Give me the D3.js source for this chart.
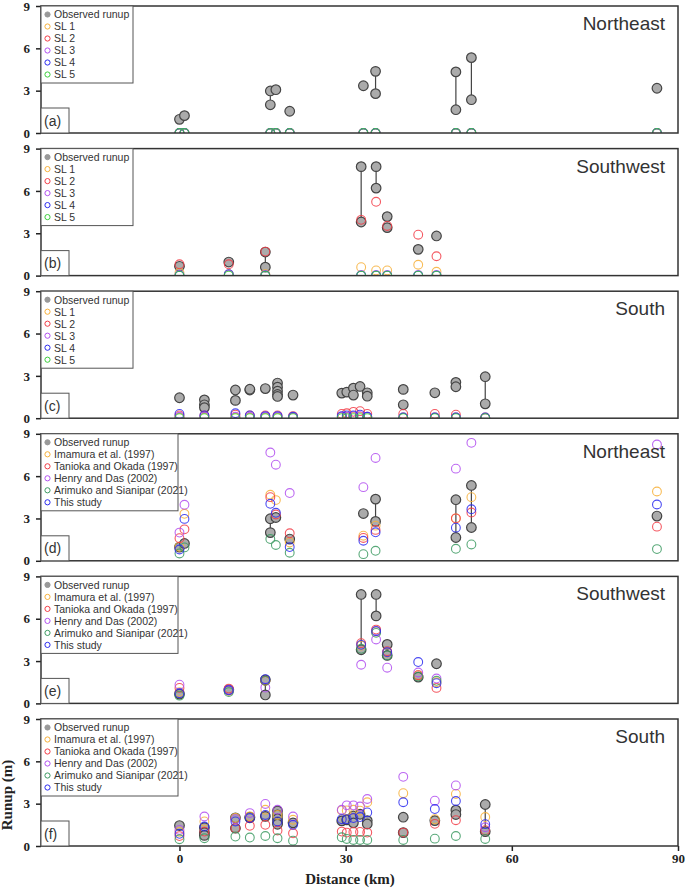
<!DOCTYPE html>
<html>
<head>
<meta charset="utf-8">
<script src="https://cdn.jsdelivr.net/npm/d3@7"></script>
<style>
  body { margin: 0; background: #fff; }
  .tick text { font-family: "Liberation Serif", serif; font-weight: bold; font-size: 13px; fill: #222; }
  .leg { font-family: "Liberation Sans", Arial, sans-serif; font-size: 10.5px; fill: #333; }
  .title { font-family: "Liberation Sans", Arial, sans-serif; font-size: 19px; fill: #333; }
  .plab { font-family: "Liberation Sans", Arial, sans-serif; font-size: 14px; fill: #333; }
  .axlab { font-family: "Liberation Serif", serif; font-weight: bold; font-size: 15px; fill: #222; }
</style>
</head>
<body>
<svg width="685" height="890"></svg>
<script>
// ---- data ----
// Northeast
var neObsDist  = [0, 0.9, 16.4, 16.4, 17.4, 19.9, 33.2, 35.4, 35.4, 49.9, 49.9, 52.7, 52.7, 86.2];
var neObsRunup = [0.97, 1.23, 2.98, 2.0, 3.07, 1.54, 3.35, 4.37, 2.79, 4.33, 1.65, 5.34, 2.36, 3.17];
var neLinked   = [16.4, 35.4, 49.9, 52.7];
var neSiteDist = [0, 0.9, 16.4, 17.4, 19.9, 33.2, 35.4, 49.9, 52.7, 86.2];
var neSL1 = [0, 0, 0, 0, 0, 0, 0, 0, 0, 0];
var neSL2 = [0, 0, 0, 0, 0, 0, 0, 0, 0, 0];
var neSL3 = [0, 0, 0, 0, 0, 0, 0, 0, 0, 0];
var neSL4 = [0, 0, 0, 0, 0, 0, 0, 0, 0, 0];
var neSL5 = [0, 0, 0, 0, 0, 0, 0, 0, 0, 0];
var neImamura = [1.0, 3.33, 4.68, 4.3, 1.3, 1.78, 2.49, 3.0, 4.51, 4.91];
var neTanioka = [1.6, 2.23, 4.51, 3.28, 1.95, 1.62, 2.19, 3.01, 3.42, 2.42];
var neHenry   = [2.0, 3.97, 7.67, 6.81, 4.8, 5.22, 7.29, 6.53, 8.36, 8.24];
var neArimuko = [0.52, 0.95, 1.54, 1.12, 0.57, 0.47, 0.71, 0.85, 1.16, 0.83];
var neStudy   = [0.8, 2.97, 4.04, 3.4, 0.97, 1.42, 2.02, 2.35, 3.65, 3.99];

// Southwest
var swObsDist  = [0, 8.9, 15.5, 15.5, 32.8, 32.8, 35.5, 35.5, 37.5, 37.5, 43.1, 46.4];
var swObsRunup = [0.66, 0.96, 1.67, 0.6, 7.72, 3.8, 7.72, 6.2, 4.18, 3.4, 1.86, 2.81];
var swLinked   = [15.5, 32.8, 35.5];
var swSiteDist = [0, 8.9, 15.5, 32.8, 35.5, 37.5, 43.1, 46.4];
var swSL1 = [0.2, 0.1, 0.1, 0.6, 0.37, 0.37, 0.77, 0.27];
var swSL2 = [0.8, 0.8, 1.7, 3.95, 5.23, 3.52, 2.9, 1.37];
var swSL3 = [0.05, 0.05, 0.05, 0.05, 0.05, 0.05, 0.05, 0.05];
var swSL4 = [0, 0.1, 0, 0, 0, 0, 0, 0];
var swSL5 = [0, 0, 0, 0, 0, 0, 0, 0];
var swImamura = [0.8, 0.9, 1.6, 4.1, 5.1, 3.6, 2.0, 1.5];
var swTanioka = [1.1, 1.05, 1.6, 4.27, 5.23, 3.7, 2.0, 1.1];
var swHenry   = [1.33, 0.95, 1.12, 2.74, 4.53, 2.53, 2.19, 1.76];
var swArimuko = [0.55, 0.8, 1.6, 3.87, 5.0, 3.4, 1.9, 1.6];
var swStudy   = [0.72, 0.93, 1.72, 4.15, 5.13, 3.62, 2.93, 1.43];

// South
var sObsDist  = [0, 4.5, 4.5, 4.5, 10.1, 10.1, 12.7, 12.7, 15.5, 17.7, 17.7, 17.7, 17.7, 17.7, 20.5,
                 29.3, 30.2, 31.4, 31.4, 32.6, 33.9, 33.9, 40.4, 40.4, 46.1, 49.9, 49.9, 55.2, 55.2];
var sObsRunup = [1.45, 1.3, 0.95, 0.75, 2.0, 1.26, 2.0, 2.05, 2.1, 2.49, 2.2, 1.92, 1.68, 1.54, 1.64,
                 1.78, 1.85, 2.13, 1.64, 2.25, 1.8, 1.56, 2.04, 0.95, 1.8, 2.54, 2.23, 2.94, 1.02];
var sLinked   = [55.2];
var sSiteDist = [0, 4.5, 10.1, 12.7, 15.5, 17.7, 20.5, 29.3, 30.2, 31.4, 32.6, 33.9, 40.4, 46.1, 49.9, 55.2];
var sSL1 = [0.05, 0.05, 0.05, 0.05, 0.05, 0.05, 0.05, 0.1, 0.1, 0.1, 0.1, 0.1, 0.05, 0.05, 0.05, 0];
var sSL2 = [0.2, 0.2, 0.25, 0.2, 0.2, 0.2, 0.15, 0.3, 0.35, 0.45, 0.5, 0.3, 0.3, 0.3, 0.25, 0.05];
var sSL3 = [0.1, 0.1, 0.1, 0.1, 0.1, 0.1, 0.05, 0.1, 0.1, 0.15, 0.15, 0.1, 0.05, 0.05, 0.05, 0];
var sSL4 = [0.3, 0.2, 0.35, 0.2, 0.15, 0.15, 0.1, 0.15, 0.2, 0.2, 0.25, 0.1, 0.05, 0.05, 0.05, 0.05];
var sSL5 = [0, 0, 0, 0, 0, 0, 0, 0, 0, 0, 0, 0, 0, 0, 0, 0];
var sImamura = [1.0, 1.74, 1.98, 2.1, 2.57, 2.2, 1.86, 2.52, 2.52, 2.57, 2.5, 3.1, 3.74, 1.9, 3.69, 2.05];
var sTanioka = [0.7, 1.02, 1.26, 1.43, 1.5, 1.1, 0.9, 1.02, 0.95, 1.0, 1.0, 0.95, 0.95, 1.57, 1.83, 1.12];
var sHenry   = [1.14, 2.09, 1.9, 2.33, 2.98, 2.57, 2.09, 2.57, 2.88, 2.88, 2.8, 3.33, 4.9, 3.21, 4.29, 1.33];
var sArimuko = [0.48, 0.55, 0.67, 0.6, 0.71, 0.55, 0.38, 0.62, 0.5, 0.43, 0.43, 0.43, 0.43, 0.52, 0.71, 0.5];
var sStudy   = [0.86, 1.38, 1.74, 1.98, 2.2, 1.74, 1.5, 1.9, 1.9, 1.98, 2.05, 2.38, 3.1, 2.62, 3.19, 1.55];

var slNames  = ["SL 1", "SL 2", "SL 3", "SL 4", "SL 5"];
var refNames = ["Imamura et al. (1997)", "Tanioka and Okada (1997)", "Henry and Das (2002)",
                "Arimuko and Sianipar (2021)", "This study"];
var xTicks = [0, 30, 60, 90];
var yTicks = [0, 3, 6, 9];

var slColors  = ["#f7b03a", "#f23c46", "#b14ff0", "#2b2bf0", "#3ccf3c"];
var refColors = ["#f7b03a", "#f23c46", "#b14ff0", "#3c9a62", "#2b2bf0"];

// ---- panels ----
var panels = [
  {lab: "(a)", title: "Northeast", od: neObsDist, or: neObsRunup, link: neLinked, sd: neSiteDist,
   models: [neSL1, neSL2, neSL3, neSL4, neSL5], names: slNames, colors: slColors},
  {lab: "(b)", title: "Southwest", od: swObsDist, or: swObsRunup, link: swLinked, sd: swSiteDist,
   models: [swSL1, swSL2, swSL3, swSL4, swSL5], names: slNames, colors: slColors},
  {lab: "(c)", title: "South", od: sObsDist, or: sObsRunup, link: sLinked, sd: sSiteDist,
   models: [sSL1, sSL2, sSL3, sSL4, sSL5], names: slNames, colors: slColors},
  {lab: "(d)", title: "Northeast", od: neObsDist, or: neObsRunup, link: neLinked, sd: neSiteDist,
   models: [neImamura, neTanioka, neHenry, neArimuko, neStudy], names: refNames, colors: refColors},
  {lab: "(e)", title: "Southwest", od: swObsDist, or: swObsRunup, link: swLinked, sd: swSiteDist,
   models: [swImamura, swTanioka, swHenry, swArimuko, swStudy], names: refNames, colors: refColors},
  {lab: "(f)", title: "South", od: sObsDist, or: sObsRunup, link: sLinked, sd: sSiteDist,
   models: [sImamura, sTanioka, sHenry, sArimuko, sStudy], names: refNames, colors: refColors}
];

var svg = d3.select("svg");
var left = 41, right = 678;
var panelTop = 6, panelH = 127, panelStep = 142.6;

var xScale = d3.scaleLinear().domain([-25, 90]).range([left, right]);

panels.forEach(function(p, i) {
  var top = panelTop + i * panelStep;
  var bottom = top + panelH;
  var yScale = d3.scaleLinear().domain([0, 9]).range([bottom, top]);

  var g = svg.append("g");

  svg.append("clipPath").attr("id", "clip" + i)
    .append("rect").attr("x", left).attr("y", top).attr("width", right - left).attr("height", panelH);

  // y axis
  var yAxis = g.append("g")
    .attr("transform", "translate(" + left + ",0)")
    .call(d3.axisLeft(yScale).tickValues(yTicks).tickSize(5).tickPadding(6));
  yAxis.select(".domain").remove();
  yAxis.selectAll(".tick line").attr("stroke", "#222").attr("stroke-width", 1.5);

  if (i == panels.length - 1) {
    var xAxis = g.append("g")
      .attr("transform", "translate(0," + bottom + ")")
      .call(d3.axisBottom(xScale).tickValues(xTicks).tickSize(5).tickPadding(3));
    xAxis.select(".domain").remove();
    xAxis.selectAll(".tick line").attr("stroke", "#222").attr("stroke-width", 1.5);
  }

  var plot = g.append("g").attr("clip-path", "url(#clip" + i + ")");

  // vertical links between paired observations
  var links = p.link.map(function(x) {
    var ys = p.or.filter(function(v, k) { return p.od[k] === x; });
    return {x: x, lo: d3.min(ys), hi: d3.max(ys)};
  });
  plot.selectAll(".link")
    .data(links)
    .enter()
    .append("line")
    .attr("x1", (d) => xScale(d.x))
    .attr("x2", (d) => xScale(d.x))
    .attr("y1", (d) => yScale(d.lo))
    .attr("y2", (d) => yScale(d.hi))
    .attr("stroke", "#444")
    .attr("stroke-width", 1.2);

  // observed runup
  plot.selectAll(".obs")
    .data(p.od.map(function(d, k) { return {x: d, y: p.or[k]}; }))
    .enter()
    .append("circle")
    .attr("cx", (d) => xScale(d.x))
    .attr("cy", (d) => yScale(d.y))
    .attr("r", 4.8)
    .attr("fill", "#ababab")
    .attr("stroke", "#444")
    .attr("stroke-width", 1.2);

  // modelled runup
  p.models.forEach(function(vals, m) {
    plot.selectAll(".m" + m)
      .data(vals.map(function(v, k) { return {x: p.sd[k], y: v}; }))
      .enter()
      .append("circle")
      .attr("cx", (d) => xScale(d.x))
      .attr("cy", (d) => yScale(d.y))
      .attr("r", 4.4)
      .attr("fill", "none")
      .attr("stroke", p.colors[m])
      .attr("stroke-opacity", 0.85)
      .attr("stroke-width", 1.1);
  });

  // frame
  g.append("rect")
    .attr("x", left).attr("y", top)
    .attr("width", right - left).attr("height", panelH)
    .attr("fill", "none").attr("stroke", "#333").attr("stroke-width", 1.5);

  // title
  g.append("text").attr("class", "title")
    .attr("x", right - 13).attr("y", top + 24)
    .attr("text-anchor", "end")
    .text(p.title);

  // panel label box
  g.append("rect")
    .attr("x", left).attr("y", bottom - 25).attr("width", 28).attr("height", 25)
    .attr("fill", "#fff").attr("stroke", "#555").attr("stroke-width", 1);
  g.append("text").attr("class", "plab")
    .attr("x", left + 3).attr("y", bottom - 7.5)
    .text(p.lab);

  // legend
  var legW = i < 3 ? 92 : 137;
  var legItems = ["Observed runup"].concat(p.names);
  var leg = g.append("g");
  leg.append("rect")
    .attr("x", left).attr("y", top)
    .attr("width", legW).attr("height", 77)
    .attr("fill", "#fff").attr("stroke", "#555").attr("stroke-width", 1);
  legItems.forEach(function(name, k) {
    var ly = top + 8.5 + k * 12;
    leg.append("circle")
      .attr("cx", left + 6.5).attr("cy", ly)
      .attr("r", 2.6)
      .attr("fill", k == 0 ? "#999" : "none")
      .attr("stroke", k == 0 ? "#999" : p.colors[k - 1])
      .attr("stroke-width", 1);
    leg.append("text").attr("class", "leg")
      .attr("x", left + 13).attr("y", ly + 3.8)
      .text(name);
  });
});

// axis titles
svg.append("text").attr("class", "axlab")
  .attr("text-anchor", "middle")
  .attr("x", 350).attr("y", 884)
  .text("Distance (km)");

svg.append("text").attr("class", "axlab")
  .attr("text-anchor", "middle")
  .attr("transform", "translate(12,795) rotate(-90)")
  .text("Runup (m)");
</script>
</body>
</html>
